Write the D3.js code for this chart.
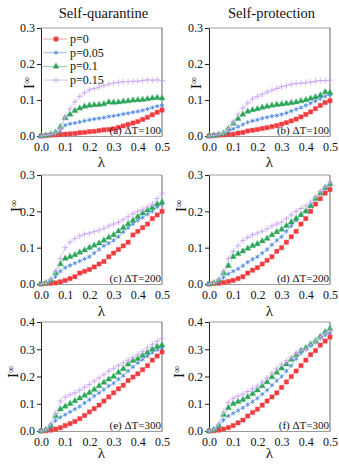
<!DOCTYPE html>
<html>
<head>
<meta charset="utf-8">
<script src="https://cdn.jsdelivr.net/npm/d3@7"></script>
<style>
  body { margin: 0; background: #fff; }
  text { font-family: "Liberation Serif", "Times New Roman", serif; fill: #111; }
</style>
</head>
<body>
<svg id="chart" width="339" height="468"></svg>
<script>
// lambda grid (every 0.02)
var lambdaValues = [0, 0.02, 0.04, 0.06, 0.08, 0.10, 0.12, 0.14, 0.16, 0.18, 0.20, 0.22, 0.24,
    0.26, 0.28, 0.30, 0.32, 0.34, 0.36, 0.38, 0.40, 0.42, 0.44, 0.46, 0.48, 0.50];

var seriesLabels = ["p=0", "p=0.05", "p=0.1", "p=0.15"];
var panelLabels = ["(a)  \u0394T=100", "(b)  \u0394T=100", "(c)  \u0394T=200", "(d)  \u0394T=200", "(e)  \u0394T=300", "(f)  \u0394T=300"];
var columnTitles = ["Self-quarantine", "Self-protection"];
var yTicksLow = [0, 0.1, 0.2, 0.3];
var yTicksHigh = [0, 0.1, 0.2, 0.3, 0.4];
var xTicks = [0, 0.1, 0.2, 0.3, 0.4, 0.5];

// (a) self-quarantine, dT=100
var a_p0   = [0,0.001,0.002,0.003,0.004,0.005,0.006,0.007,0.009,0.010,0.012,0.013,0.015,0.017,0.018,0.020,0.024,0.028,0.032,0.036,0.040,0.046,0.052,0.059,0.066,0.072];
var a_p005 = [0,0.002,0.004,0.007,0.015,0.030,0.034,0.036,0.039,0.042,0.045,0.047,0.049,0.051,0.054,0.056,0.058,0.061,0.063,0.066,0.068,0.071,0.075,0.079,0.083,0.085];
var a_p01  = [0,0.002,0.005,0.010,0.025,0.050,0.060,0.070,0.077,0.082,0.085,0.086,0.087,0.089,0.094,0.093,0.094,0.096,0.097,0.099,0.100,0.101,0.103,0.105,0.106,0.105];
var a_p015 = [0,0.002,0.004,0.008,0.022,0.054,0.075,0.095,0.110,0.120,0.128,0.132,0.136,0.140,0.144,0.147,0.149,0.151,0.151,0.152,0.152,0.154,0.156,0.155,0.156,0.154];

// (b) self-protection, dT=100
var b_p0   = [0,0.001,0.002,0.003,0.004,0.005,0.008,0.010,0.014,0.016,0.018,0.021,0.023,0.026,0.029,0.033,0.037,0.042,0.047,0.053,0.060,0.067,0.076,0.085,0.093,0.098];
var b_p005 = [0,0.001,0.003,0.005,0.012,0.020,0.026,0.032,0.038,0.042,0.045,0.049,0.052,0.055,0.057,0.060,0.064,0.069,0.074,0.079,0.085,0.091,0.097,0.104,0.110,0.115];
var b_p01  = [0,0.002,0.004,0.008,0.020,0.035,0.048,0.060,0.068,0.072,0.075,0.079,0.082,0.085,0.087,0.088,0.090,0.092,0.094,0.097,0.100,0.104,0.108,0.113,0.122,0.120];
var b_p015 = [0,0.002,0.004,0.008,0.020,0.040,0.060,0.078,0.092,0.103,0.110,0.116,0.122,0.127,0.132,0.137,0.140,0.144,0.146,0.147,0.148,0.150,0.152,0.154,0.154,0.155];

// (c) self-quarantine, dT=200
var c_p0   = [0,0.001,0.002,0.003,0.006,0.010,0.015,0.020,0.030,0.035,0.040,0.047,0.055,0.062,0.075,0.085,0.095,0.105,0.115,0.135,0.145,0.155,0.165,0.180,0.190,0.200];
var c_p005 = [0,0.003,0.008,0.020,0.035,0.045,0.051,0.057,0.063,0.069,0.075,0.085,0.095,0.105,0.112,0.120,0.130,0.143,0.155,0.165,0.175,0.183,0.192,0.200,0.212,0.220];
var c_p01  = [0,0.003,0.010,0.030,0.055,0.070,0.075,0.080,0.087,0.093,0.100,0.106,0.112,0.120,0.128,0.135,0.145,0.155,0.165,0.175,0.185,0.195,0.203,0.210,0.220,0.225];
var c_p015 = [0,0.003,0.012,0.035,0.070,0.100,0.115,0.125,0.132,0.137,0.140,0.144,0.148,0.153,0.160,0.165,0.170,0.177,0.185,0.193,0.200,0.205,0.212,0.220,0.235,0.250];

// (d) self-protection, dT=200
var d_p0   = [0,0.001,0.002,0.004,0.007,0.010,0.015,0.020,0.030,0.038,0.045,0.055,0.065,0.075,0.090,0.100,0.115,0.130,0.145,0.165,0.180,0.200,0.220,0.235,0.250,0.260];
var d_p005 = [0,0.003,0.007,0.018,0.028,0.035,0.042,0.050,0.060,0.068,0.075,0.085,0.095,0.108,0.120,0.130,0.145,0.160,0.175,0.190,0.200,0.215,0.235,0.250,0.262,0.275];
var d_p01  = [0,0.003,0.010,0.030,0.050,0.075,0.083,0.090,0.098,0.105,0.110,0.118,0.125,0.135,0.143,0.150,0.160,0.170,0.180,0.190,0.200,0.215,0.235,0.250,0.265,0.275];
var d_p015 = [0,0.003,0.012,0.035,0.070,0.090,0.105,0.120,0.128,0.135,0.140,0.145,0.152,0.160,0.165,0.170,0.180,0.190,0.200,0.208,0.215,0.225,0.240,0.255,0.268,0.280];

// (e) self-quarantine, dT=300
var e_p0   = [0,0.001,0.003,0.007,0.012,0.020,0.027,0.035,0.045,0.057,0.070,0.082,0.095,0.110,0.125,0.140,0.155,0.168,0.185,0.198,0.210,0.225,0.240,0.260,0.275,0.290];
var e_p005 = [0,0.005,0.015,0.038,0.050,0.060,0.070,0.080,0.090,0.103,0.115,0.128,0.140,0.152,0.165,0.175,0.190,0.203,0.220,0.235,0.250,0.262,0.275,0.288,0.298,0.305];
var e_p01  = [0,0.005,0.020,0.055,0.080,0.090,0.100,0.110,0.120,0.130,0.140,0.152,0.165,0.178,0.190,0.200,0.215,0.228,0.245,0.258,0.265,0.277,0.288,0.300,0.310,0.315];
var e_p015 = [0,0.005,0.025,0.065,0.110,0.125,0.133,0.140,0.150,0.160,0.170,0.183,0.195,0.207,0.220,0.230,0.240,0.250,0.260,0.270,0.280,0.292,0.305,0.318,0.330,0.340];

// (f) self-protection, dT=300
var f_p0   = [0,0.001,0.003,0.007,0.013,0.020,0.030,0.040,0.055,0.068,0.080,0.095,0.110,0.125,0.140,0.160,0.180,0.200,0.220,0.240,0.260,0.280,0.295,0.315,0.330,0.345];
var f_p005 = [0,0.005,0.015,0.040,0.055,0.065,0.075,0.085,0.097,0.108,0.120,0.135,0.150,0.168,0.185,0.200,0.220,0.240,0.265,0.285,0.300,0.312,0.325,0.340,0.352,0.360];
var f_p01  = [0,0.005,0.020,0.060,0.085,0.100,0.107,0.115,0.125,0.137,0.150,0.165,0.180,0.198,0.215,0.230,0.245,0.262,0.280,0.295,0.305,0.318,0.330,0.347,0.363,0.375];
var f_p015 = [0,0.005,0.025,0.070,0.105,0.120,0.128,0.135,0.145,0.155,0.165,0.180,0.195,0.213,0.230,0.245,0.258,0.270,0.285,0.295,0.300,0.315,0.330,0.345,0.358,0.370];

var colors = ["#f23b3f", "#3f80e2", "#2ea65a", "#c7a0ef"];
var lineColors = ["#f7a0a2", "#9cc0f2", "#90d2a8", "#dcc6f6"];
var serif = '"Liberation Serif", "Times New Roman", serif';

var svg = d3.select("#chart");

// panel layout
var cols = [{ x0: 41, x1: 162 }, { x0: 209, x1: 330 }];
var rows = [
    { y0: 28, y1: 136, ymax: 0.3, yticks: yTicksLow, lamGap: 31, ilab: [29, 196], ilabY: 83 },
    { y0: 175, y1: 284, ymax: 0.3, yticks: yTicksLow, lamGap: 32, ilab: [16, 181], ilabY: 206 },
    { y0: 322, y1: 431, ymax: 0.4, yticks: yTicksHigh, lamGap: 27, ilab: [13, 179], ilabY: 372 }
];

var panels = [
    [a_p0, a_p005, a_p01, a_p015], [b_p0, b_p005, b_p01, b_p015],
    [c_p0, c_p005, c_p01, c_p015], [d_p0, d_p005, d_p01, d_p015],
    [e_p0, e_p005, e_p01, e_p015], [f_p0, f_p005, f_p01, f_p015]
];

function markerPath(i) {
    var types = [d3.symbolSquare, d3.symbolAsterisk, d3.symbolTriangle, d3.symbolPlus];
    var sizes = [18, 14, 16, 14];
    return d3.symbol().type(types[i]).size(sizes[i])();
}

function drawMarker(g, i, x, y) {
    var filled = (i == 0 || i == 2);
    g.append("path")
        .attr("d", markerPath(i))
        .attr("transform", "translate(" + x + "," + y + ")")
        .attr("fill", filled ? colors[i] : "none")
        .attr("stroke", colors[i])
        .attr("stroke-width", filled ? 0.4 : 0.8);
}

// column titles
columnTitles.forEach(function(t, ci) {
    svg.append("text")
        .attr("x", (cols[ci].x0 + cols[ci].x1) / 2 + 2)
        .attr("y", 18)
        .attr("text-anchor", "middle")
        .style("font-family", serif)
        .style("font-size", "14.5px")
        .text(t);
});

panels.forEach(function(series, pi) {
    var row = rows[Math.floor(pi / 2)], ci = pi % 2, col = cols[ci];

    var x = d3.scaleLinear().domain([0, 0.5]).range([col.x0, col.x1]);
    var y = d3.scaleLinear().domain([0, row.ymax]).range([row.y1, row.y0]);

    var g = svg.append("g");

    // frame: grey top / right
    g.append("line").attr("x1", col.x0).attr("x2", col.x1).attr("y1", row.y0).attr("y2", row.y0)
        .attr("stroke", "#9a9a9a").attr("stroke-width", 1);
    g.append("line").attr("x1", col.x1).attr("x2", col.x1).attr("y1", row.y0).attr("y2", row.y1)
        .attr("stroke", "#666").attr("stroke-width", 1);

    // x axis
    var xAxis = g.append("g")
        .attr("transform", "translate(0," + row.y1 + ")")
        .call(d3.axisBottom(x).tickValues(xTicks).tickFormat(d3.format(".1f")).tickSize(0).tickPadding(6));
    xAxis.attr("font-family", null);
    xAxis.select(".domain").attr("stroke", "#9a9a9a");
    xAxis.selectAll("text").style("font-size", "12px").style("font-family", serif).attr("fill", "#111");

    // y axis
    var yAxis = g.append("g")
        .attr("transform", "translate(" + col.x0 + ",0)")
        .call(d3.axisLeft(y).tickValues(row.yticks).tickFormat(d3.format(".1f")).tickSize(4).tickPadding(2).tickSizeOuter(0));
    yAxis.attr("font-family", null);
    yAxis.select(".domain").attr("stroke", "#222");
    yAxis.selectAll(".tick line").attr("stroke", "#222");
    yAxis.selectAll("text").style("font-size", "12px").style("font-family", serif).attr("fill", "#111");

    // axis titles
    g.append("text")
        .attr("x", (col.x0 + col.x1) / 2)
        .attr("y", row.y1 + row.lamGap)
        .attr("text-anchor", "middle")
        .style("font-family", serif)
        .style("font-size", "15px")
        .text("\u03bb");

    var il = g.append("text")
        .attr("transform", "translate(" + (row.ilab[ci] + 5) + "," + row.ilabY + ") rotate(-90)")
        .attr("text-anchor", "middle")
        .style("font-family", serif)
        .style("font-size", "15px");
    il.append("tspan").text("I");
    il.append("tspan").attr("dy", "-0.45em").style("font-size", "10px").text("\u221e");

    // series
    var line = d3.line()
        .x(function(d, i) { return x(lambdaValues[i]); })
        .y(function(d) { return y(d); });

    series.forEach(function(vals, si) {
        var sg = g.append("g");
        sg.append("path")
            .datum(vals)
            .attr("d", line)
            .attr("fill", "none")
            .attr("stroke", lineColors[si])
            .attr("stroke-width", 0.8);
        vals.forEach(function(v, i) {
            drawMarker(sg, si, x(lambdaValues[i]), y(v));
        });
    });

    // panel label
    g.append("text")
        .attr("x", col.x1 - 1)
        .attr("y", row.y1 - 2)
        .attr("text-anchor", "end")
        .style("font-family", serif)
        .style("font-size", "11px")
        .text(panelLabels[pi]);

    // legend in the first panel
    if (pi == 0) {
        seriesLabels.forEach(function(lab, si) {
            var ly = 39 + si * 13.7;
            g.append("line")
                .attr("x1", col.x0 + 2).attr("x2", col.x0 + 26)
                .attr("y1", ly).attr("y2", ly)
                .attr("stroke", lineColors[si]).attr("stroke-width", 1);
            drawMarker(g, si, col.x0 + 15, ly);
            g.append("text")
                .attr("x", col.x0 + 29)
                .attr("y", ly + 4)
                .style("font-family", serif)
                .style("font-size", "12px")
                .text(lab);
        });
    }
});
</script>
</body>
</html>
